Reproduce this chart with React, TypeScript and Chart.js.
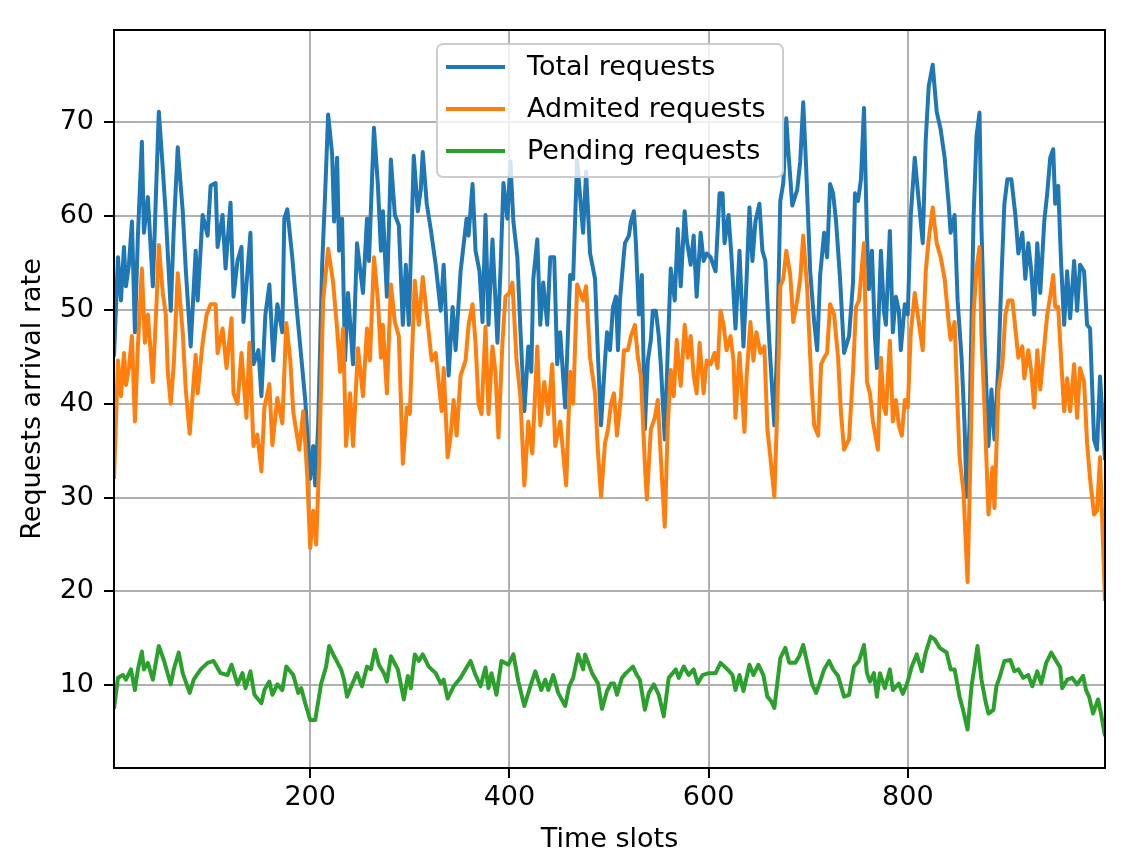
import React, { useEffect, useRef } from 'react';
import { Chart, registerables } from 'chart.js';

Chart.register(...registerables);

// tick values shown on the axes
const xTicks = [200, 400, 600, 800];
const yTicks = [10, 20, 30, 40, 50, 60, 70];

// Total requests
const totalSlots = [3, 7, 10, 13, 15, 18, 21, 24, 27, 31, 33, 37, 42, 46, 48, 52, 55, 60, 63, 67, 72, 75, 80, 85, 87, 92, 97, 100, 105, 107, 112, 115, 120, 123, 127, 131, 133, 137, 140, 143, 148, 151, 155, 159, 163, 167, 172, 174, 177, 182, 185, 190, 195, 200, 203, 205, 208, 212, 215, 218, 222, 224, 227, 229, 232, 235, 238, 243, 247, 253, 257, 259, 264, 268, 271, 273, 277, 281, 285, 289, 293, 296, 299, 304, 308, 311, 313, 317, 321, 326, 331, 334, 339, 343, 346, 351, 357, 359, 363, 366, 370, 373, 376, 379, 383, 388, 391, 394, 398, 401, 404, 408, 411, 415, 419, 422, 424, 428, 431, 434, 438, 441, 445, 448, 451, 456, 461, 464, 468, 474, 477, 481, 486, 489, 492, 496, 498, 501, 504, 507, 509, 511, 514, 516, 520, 522, 525, 527, 530, 533, 536, 539, 542, 544, 547, 550, 552, 556, 559, 562, 566, 569, 572, 576, 578, 582, 585, 588, 592, 595, 598, 602, 607, 611, 614, 616, 620, 623, 627, 631, 635, 638, 641, 644, 647, 651, 654, 657, 661, 666, 669, 672, 675, 678, 680, 684, 689, 692, 695, 698, 702, 706, 709, 712, 716, 719, 722, 725, 728, 732, 736, 741, 745, 747, 750, 753, 756, 759, 761, 764, 767, 769, 773, 776, 778, 782, 785, 788, 791, 793, 797, 800, 803, 807, 811, 815, 818, 821, 825, 829, 833, 837, 841, 843, 847, 850, 854, 857, 859, 862, 866, 869, 872, 874, 877, 881, 884, 887, 891, 894, 897, 900, 904, 908, 911, 915, 918, 921, 924, 927, 930, 933, 937, 940, 943, 946, 948, 951, 954, 957, 960, 963, 967, 970, 973, 977, 980, 983, 987, 990, 993, 998];
const totalRate = [45, 55.6, 51, 56.7, 52.5, 54.8, 59.4, 47.6, 57.9, 67.9, 58.2, 62, 52.5, 65, 71.1, 65, 60.1, 49.9, 58.6, 67.3, 60.5, 54.4, 46.1, 56.3, 51, 60.1, 57.9, 63.2, 63.5, 56.7, 60.1, 54.4, 61.4, 51.4, 55.2, 56.7, 48.7, 54.1, 58.2, 44.2, 45.7, 40.8, 49.5, 52.7, 44.6, 50.6, 47.6, 59.7, 60.7, 55.6, 51.8, 46.1, 40.4, 32, 35.5, 31.3, 37.7, 54.8, 62.4, 70.8, 66.6, 59.4, 66.2, 56.3, 59.7, 44.6, 51.8, 44.2, 57.1, 51.8, 59.7, 55.2, 69.4, 63.2, 56.3, 60.5, 51.4, 66, 60.1, 59, 48.4, 54.8, 48.4, 66.4, 60.5, 62.8, 66.8, 61.3, 58.6, 54.8, 49.9, 54.8, 43, 50.3, 45.7, 54.1, 59.7, 57.9, 63.4, 56.3, 54.1, 48.7, 60.1, 48.4, 57.5, 46.5, 54.1, 63.5, 59.7, 65.8, 59.4, 55.6, 48, 39.2, 46.1, 43.4, 53.3, 57.5, 48.4, 52.9, 48.4, 55.6, 55.6, 44.2, 47.6, 39.6, 53.7, 53.3, 66, 58.2, 64.7, 56, 53.3, 44.9, 37.7, 44.6, 47.6, 45.7, 50.3, 51.4, 45.7, 51, 54.8, 57.1, 57.9, 59.4, 60.5, 57.1, 49.5, 53.7, 37.3, 44.6, 46.8, 49.9, 49.9, 47.2, 44.2, 36.2, 45.7, 54.4, 51, 58.6, 52.5, 60.5, 57.5, 54.8, 57.9, 51.4, 58.2, 55.2, 56, 55.6, 54.1, 62.4, 62.4, 57.1, 60.1, 55.6, 48, 56.3, 46.1, 52.9, 60.9, 55.2, 59.4, 61.3, 56.3, 55.2, 46.5, 37.7, 46.5, 61.6, 63.5, 70.4, 67, 61.1, 62.8, 65.8, 72.1, 65, 54.1, 48.7, 45.7, 53.7, 58.2, 55.6, 63.4, 62.4, 59.4, 53.3, 45.4, 47.2, 52.9, 62.4, 61.6, 63.9, 71.5, 57.9, 52.2, 56.3, 47.2, 43.8, 56.3, 49.9, 48.4, 58.4, 47.6, 51.4, 49.9, 45.7, 50.6, 49.5, 60.1, 66.2, 61.6, 57.1, 68.1, 73.8, 76.1, 71.1, 69.2, 66.2, 61.3, 58.2, 60.1, 51, 44.9, 37.7, 30.1, 37.7, 59.7, 68.5, 71, 58.6, 47.2, 35.5, 41.5, 36.2, 44.2, 53.3, 61.3, 63.9, 63.9, 60.1, 56, 58.2, 53.3, 57.1, 54.1, 49.5, 57.1, 51.8, 59.4, 62.4, 66.2, 67.1, 61.3, 63.2, 54.8, 48.4, 54.1, 49.1, 55.2, 49.9, 54.8, 54.1, 48.4, 48, 36.2, 35.1, 42.9, 34];

// Admited requests
const admitedSlots = [3, 7, 10, 13, 15, 18, 21, 24, 27, 31, 34, 37, 42, 46, 48, 52, 55, 57, 60, 63, 67, 72, 75, 79, 85, 87, 92, 96, 100, 105, 107, 112, 116, 121, 123, 127, 131, 136, 139, 143, 147, 151, 154, 159, 162, 167, 172, 176, 180, 183, 189, 193, 197, 200, 203, 206, 209, 213, 218, 223, 227, 230, 233, 236, 240, 243, 248, 253, 257, 260, 264, 268, 271, 273, 277, 281, 285, 289, 293, 297, 300, 305, 309, 313, 317, 322, 326, 329, 332, 334, 338, 341, 344, 347, 351, 356, 359, 363, 366, 369, 372, 376, 379, 383, 386, 389, 393, 396, 400, 403, 407, 411, 415, 419, 423, 428, 431, 435, 439, 443, 446, 451, 457, 461, 464, 468, 474, 477, 481, 486, 489, 492, 496, 499, 502, 505, 508, 512, 515, 519, 522, 526, 529, 532, 536, 538, 542, 546, 549, 552, 556, 559, 562, 565, 568, 572, 576, 579, 582, 585, 588, 591, 595, 598, 602, 606, 609, 612, 615, 618, 622, 625, 627, 631, 636, 638, 642, 645, 648, 652, 656, 659, 662, 666, 669, 672, 675, 678, 682, 685, 689, 692, 695, 699, 703, 706, 710, 713, 716, 719, 722, 726, 730, 733, 736, 741, 745, 748, 751, 756, 759, 762, 765, 770, 773, 776, 778, 782, 785, 788, 791, 794, 797, 800, 803, 807, 811, 815, 818, 821, 825, 829, 833, 837, 841, 843, 847, 850, 852, 856, 860, 862, 866, 869, 872, 874, 877, 881, 885, 887, 891, 895, 898, 901, 905, 908, 911, 915, 917, 921, 924, 927, 930, 933, 937, 940, 943, 946, 948, 951, 954, 957, 960, 963, 967, 970, 973, 977, 980, 983, 987, 990, 993, 998];
const admitedRate = [32, 44.6, 40.8, 45.4, 42, 43.8, 47.2, 38.1, 46.1, 54.4, 46.5, 49.5, 42.3, 51.4, 56.9, 51.8, 49.5, 43.4, 40, 44.2, 53.9, 47.6, 41.6, 36.8, 45.2, 41.1, 46.5, 49.5, 50.6, 50.6, 45.4, 48, 43.8, 49.1, 41.1, 40, 45.4, 38.5, 46.5, 35.5, 36.7, 32.8, 39.6, 42.1, 35.6, 40.6, 37.9, 48.6, 44.6, 39.1, 35.1, 39.2, 32.4, 24.6, 28.6, 25, 33.9, 51, 56.5, 52.9, 48, 43.4, 48, 35.5, 41.1, 35.5, 45.9, 40.8, 48, 44.6, 55.6, 51, 44.9, 48.4, 41.1, 52.7, 48.7, 47.2, 33.6, 39.6, 38.9, 53.1, 48.4, 53.5, 49.5, 44.6, 45.4, 42.3, 39.2, 43.8, 34.3, 36.6, 40.4, 36.6, 43, 44.6, 48.4, 50.6, 46.5, 40, 38.9, 48.2, 38.9, 46.1, 43.4, 36.4, 46.5, 51.4, 51.8, 52.9, 44.9, 40.8, 31.3, 38.1, 34.7, 46.1, 37.7, 42.3, 38.9, 44.2, 35.5, 38.1, 31.3, 43.4, 40, 52.7, 51, 52.5, 44.9, 41.1, 34.7, 30.1, 35.8, 37.3, 40, 41.1, 36.6, 40.8, 45.7, 45.7, 47.2, 48.4, 44.9, 43, 33.6, 29.8, 37.3, 38.5, 40.4, 34.3, 26.9, 37.7, 43.6, 40.8, 46.8, 41.9, 48.4, 44.9, 47.2, 43, 41.1, 46.5, 41.1, 44.6, 44.2, 45.4, 43.8, 49.9, 48.4, 45.7, 47.2, 44.6, 38.5, 45.4, 37, 42.7, 48.7, 44.6, 47.6, 45.4, 46.1, 37.3, 34.3, 30.1, 39.6, 52.5, 53.3, 56.3, 53.7, 48.7, 51, 53.3, 57.9, 52.2, 42.7, 37.7, 36.6, 44.2, 44.9, 45.4, 50.6, 49.5, 44.9, 38.9, 35.1, 36.2, 43.4, 50.3, 51, 57.1, 42.3, 41.1, 38.1, 35.1, 44.9, 39.6, 38.9, 46.7, 38.1, 40.4, 37.7, 36.6, 40.4, 39.6, 47.6, 51.8, 48.7, 45.7, 54.1, 57.5, 60.9, 57.1, 55.6, 53.3, 48.7, 46.8, 48.7, 39.6, 34.3, 30.5, 21, 30.1, 49.5, 54.4, 56.7, 47.2, 39.6, 28.2, 33.2, 28.9, 41.5, 44.2, 49.5, 51, 51, 48, 44.9, 46.1, 42.7, 45.7, 43.4, 39.6, 45.7, 41.5, 46.1, 49.5, 51.4, 53.7, 50.3, 50.3, 44.6, 39.2, 42.7, 39.2, 44.2, 38.5, 43.8, 42.3, 35.8, 32, 28.2, 28.6, 34.3, 19];

// Pending requests
const pendingSlots = [3, 7, 12, 15, 20, 24, 27, 31, 33, 37, 42, 48, 53, 60, 63, 68, 72, 79, 83, 90, 97, 103, 110, 117, 121, 127, 132, 135, 140, 144, 151, 154, 159, 162, 167, 172, 176, 183, 188, 191, 195, 200, 205, 211, 216, 219, 224, 231, 234, 237, 242, 247, 252, 257, 261, 265, 269, 274, 277, 281, 288, 294, 298, 301, 305, 309, 313, 319, 326, 331, 334, 338, 344, 351, 357, 361, 366, 371, 376, 379, 382, 387, 392, 399, 404, 409, 415, 421, 426, 432, 436, 439, 444, 449, 456, 460, 464, 469, 474, 476, 483, 489, 493, 498, 502, 505, 508, 513, 517, 524, 528, 531, 536, 540, 545, 550, 555, 560, 567, 570, 575, 580, 585, 589, 594, 600, 607, 612, 619, 624, 627, 631, 635, 641, 645, 650, 655, 659, 663, 666, 672, 677, 681, 687, 691, 695, 699, 704, 708, 712, 716, 721, 725, 730, 736, 741, 746, 751, 756, 759, 762, 766, 769, 772, 777, 782, 785, 791, 795, 799, 804, 809, 814, 818, 823, 827, 832, 839, 843, 847, 852, 855, 860, 864, 867, 870, 874, 878, 881, 886, 889, 892, 897, 903, 907, 911, 916, 921, 925, 930, 934, 939, 944, 949, 953, 955, 960, 965, 970, 976, 979, 982, 986, 991, 994, 998];
const pendingRate = [7.5, 10.8, 11.1, 10.6, 11.7, 9.5, 11.7, 13.6, 11.7, 12.4, 10.6, 14.2, 12.7, 10.1, 11.7, 13.5, 11.3, 9.2, 10.6, 11.7, 12.4, 12.6, 11.3, 11.1, 12.2, 10.1, 11.3, 9.7, 11.5, 9, 8.1, 9.5, 10.4, 9, 10.1, 9.5, 12, 11.1, 9.2, 9.7, 8.1, 6.3, 6.3, 10.2, 12, 14.2, 13.1, 11.7, 10.6, 8.8, 10.1, 11.3, 9.9, 12, 11.7, 13.8, 12.2, 11.3, 10.4, 13.1, 11.7, 8.5, 11, 9.7, 13.3, 12.6, 13.3, 12, 11.3, 10.2, 10.6, 8.6, 9.9, 10.8, 11.9, 12.6, 11.1, 9.9, 11.9, 9.7, 11.3, 9, 12.6, 12.2, 13.3, 10.4, 7.8, 9.9, 11.5, 9.5, 10.6, 9.5, 11.1, 9.2, 7.8, 9.9, 10.8, 13.3, 11.7, 13.3, 11.3, 10.2, 7.5, 9.4, 10.2, 10.2, 9, 10.8, 11.3, 12, 11.1, 10.6, 7.4, 9.2, 10.1, 9, 6.7, 10.8, 11.7, 10.8, 12, 11.1, 11.7, 10.2, 11.1, 11.3, 11.3, 12.4, 11.7, 11.1, 9.5, 11.1, 9.4, 12.2, 11.1, 12.2, 11.1, 8.8, 8.3, 7.6, 12.9, 14, 12.4, 12.4, 13.1, 14.3, 12.4, 10.1, 9.2, 10.4, 11.7, 12.6, 11.7, 11, 8.8, 9, 12, 12.6, 14.3, 11.3, 10.4, 11.3, 8.8, 11.3, 9.7, 11.7, 9.5, 10.2, 9.1, 10.1, 12, 13.3, 11.5, 13.5, 15.2, 14.9, 14, 13.5, 11.7, 11.7, 8.8, 7.6, 5.3, 9.9, 12, 14.2, 10.6, 8.3, 7, 7.4, 9.9, 10.8, 12.6, 12.7, 11.5, 11.7, 10.8, 11.1, 9.9, 11.5, 10.2, 12.4, 13.5, 12.6, 11.9, 9.7, 10.6, 10.8, 10.1, 11, 9.5, 8.8, 7, 8.5, 7, 4.6];

const seriesNames = ['Total requests', 'Admited requests', 'Pending requests'];
const seriesColors = ['#1f77b4', '#ff7f0e', '#2ca02c'];

const FONT = "'DejaVu Sans', sans-serif";
const FONT_SIZE = 27;

// matplotlib style legend box inside the plot area
const legendPlugin = {
    id: 'boxLegend',
    afterDraw(chart: Chart) {
        const ctx = chart.ctx;
        const x = 437;
        const y = 44;
        const w = 346;
        const h = 133;
        ctx.save();
        ctx.beginPath();
        ctx.roundRect(x, y, w, h, 6);
        ctx.fillStyle = 'rgba(255,255,255,0.8)';
        ctx.fill();
        ctx.lineWidth = 2;
        ctx.strokeStyle = '#cccccc';
        ctx.stroke();
        ctx.font = `${FONT_SIZE}px ${FONT}`;
        ctx.textBaseline = 'middle';
        chart.data.datasets.forEach((ds, i) => {
            const rowY = y + 23 + i * 42;
            ctx.beginPath();
            ctx.moveTo(x + 9, rowY);
            ctx.lineTo(x + 68, rowY);
            ctx.strokeStyle = ds.borderColor as string;
            ctx.lineWidth = 4;
            ctx.stroke();
            ctx.fillStyle = '#000';
            ctx.fillText(ds.label as string, x + 90, rowY + 1);
        });
        ctx.restore();
    },
};

// closes the box on top and right like matplotlib spines
const framePlugin = {
    id: 'frame',
    afterDatasetsDraw(chart: Chart) {
        const { ctx, chartArea } = chart;
        ctx.save();
        ctx.strokeStyle = '#000';
        ctx.lineWidth = 2;
        ctx.strokeRect(chartArea.left, chartArea.top, chartArea.right - chartArea.left, chartArea.bottom - chartArea.top);
        ctx.restore();
    },
};

const App: React.FC = () => {
    const chartRef = useRef<HTMLCanvasElement>(null);

    useEffect(() => {
        document.body.style.margin = '0';
        let chartInstance: Chart | undefined;
        if (chartRef.current) {
            const ctx = chartRef.current.getContext('2d');
            if (ctx) {
                const slots = [totalSlots, admitedSlots, pendingSlots];
                const rates = [totalRate, admitedRate, pendingRate];
                chartInstance = new Chart(ctx, {
                    type: 'line',
                    data: {
                        datasets: seriesNames.map((name, i) => ({
                            label: name,
                            data: slots[i].map((s, j) => ({ x: s, y: rates[i][j] })),
                            borderColor: seriesColors[i],
                            backgroundColor: seriesColors[i],
                            borderWidth: 4,
                            borderJoinStyle: 'round' as const,
                            pointRadius: 0,
                            tension: 0,
                            fill: false,
                            order: 3 - i,
                        })),
                    },
                    plugins: [framePlugin, legendPlugin],
                    options: {
                        responsive: false,
                        animation: false,
                        devicePixelRatio: 1,
                        layout: { padding: { top: 30, right: 20, left: 0, bottom: 0 } },
                        plugins: {
                            legend: { display: false },
                            tooltip: { enabled: false },
                        },
                        scales: {
                            x: {
                                type: 'linear',
                                min: 3,
                                max: 998,
                                afterBuildTicks: (axis) => {
                                    axis.ticks = xTicks.map((v) => ({ value: v }));
                                },
                                afterFit: (axis) => {
                                    axis.height = 88;
                                },
                                grid: { color: '#b0b0b0', lineWidth: 2, tickColor: '#000', tickLength: 10 },
                                border: { color: '#000', width: 2 },
                                ticks: { color: '#000', font: { family: FONT, size: FONT_SIZE }, padding: 4, maxRotation: 0 },
                                title: {
                                    display: true,
                                    text: 'Time slots',
                                    color: '#000',
                                    font: { family: FONT, size: FONT_SIZE },
                                    padding: { top: 0, bottom: 0 },
                                },
                            },
                            y: {
                                type: 'linear',
                                min: 1.2,
                                max: 79.8,
                                afterBuildTicks: (axis) => {
                                    axis.ticks = yTicks.map((v) => ({ value: v }));
                                },
                                afterFit: (axis) => {
                                    axis.width = 114;
                                },
                                grid: { color: '#b0b0b0', lineWidth: 2, tickColor: '#000', tickLength: 10 },
                                border: { color: '#000', width: 2 },
                                ticks: { color: '#000', font: { family: FONT, size: FONT_SIZE }, padding: 10 },
                                title: {
                                    display: true,
                                    text: 'Requests arrival rate',
                                    color: '#000',
                                    font: { family: FONT, size: FONT_SIZE },
                                    padding: { top: 17, bottom: 0 },
                                },
                            },
                        },
                    },
                });
            }
        }
        return () => {
            if (chartInstance) {
                chartInstance.destroy();
            }
        };
    }, []);

    return (
        <div style={{ width: 1125, height: 856 }}>
            <canvas ref={chartRef} width={1125} height={856}></canvas>
        </div>
    );
};

export default App;
